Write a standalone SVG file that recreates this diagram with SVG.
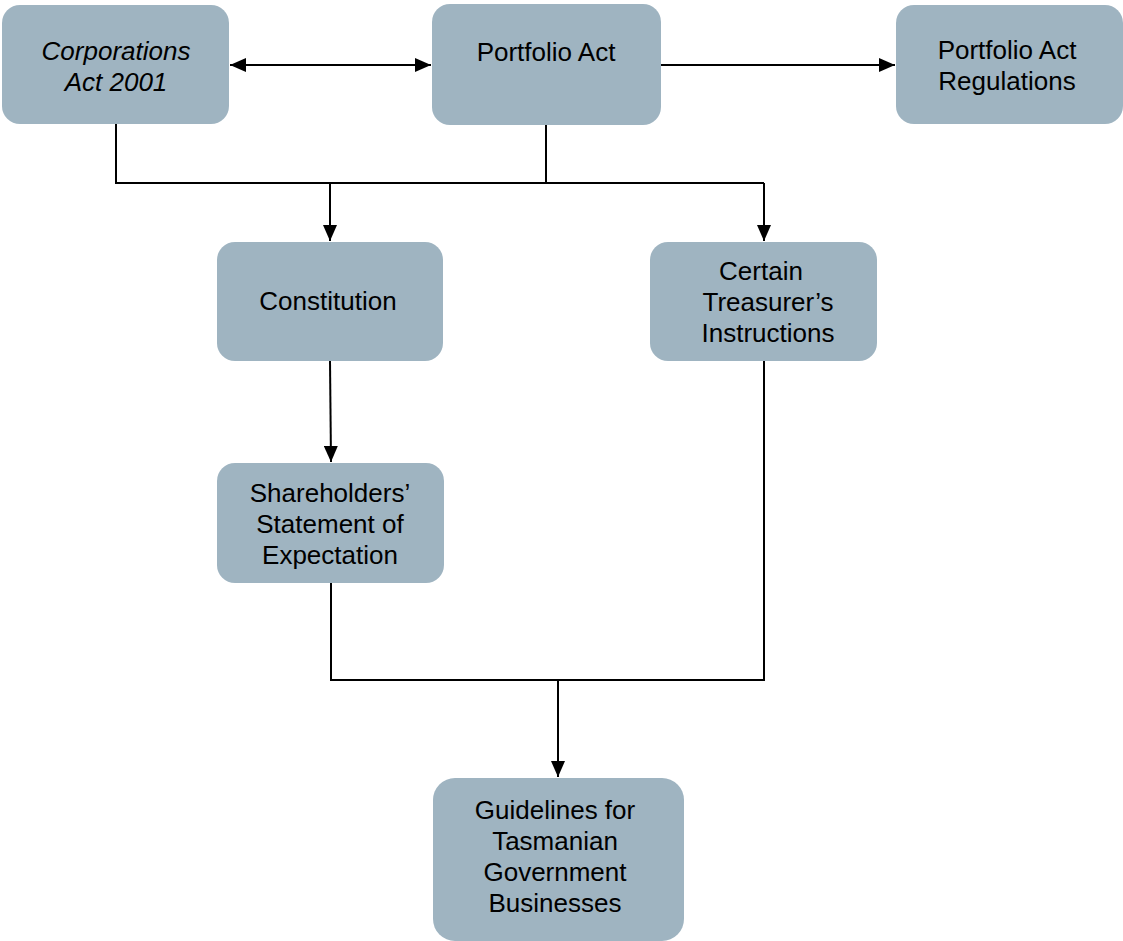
<svg xmlns="http://www.w3.org/2000/svg" width="1123" height="941" viewBox="0 0 1123 941">
<style>
.box{fill:#9FB4C1;}
.t{font-family:"Liberation Sans",Arial,sans-serif;font-size:26px;fill:#000;text-anchor:middle;}
.i{font-style:italic;}
.ln{stroke:#000;stroke-width:2;fill:none;}
</style>
<defs>
<marker id="ah" viewBox="0 0 16 14" refX="16" refY="7" markerWidth="16" markerHeight="14" markerUnits="userSpaceOnUse" orient="auto-start-reverse">
<path d="M0,0 L16,7 L0,14 Z" fill="#000"/>
</marker>
</defs>
<rect width="1123" height="941" fill="#fff"/>
<g id="connectors">
<line class="ln" x1="230" y1="65" x2="431" y2="65" marker-start="url(#ah)" marker-end="url(#ah)"/>
<line class="ln" x1="661" y1="65" x2="895" y2="65" marker-end="url(#ah)"/>
<polyline class="ln" points="116,124 116,183 764,183"/>
<line class="ln" x1="546" y1="125" x2="546" y2="183"/>
<line class="ln" x1="330" y1="183" x2="330" y2="241" marker-end="url(#ah)"/>
<line class="ln" x1="764" y1="183" x2="764" y2="241" marker-end="url(#ah)"/>
<line class="ln" x1="330" y1="361" x2="331" y2="462" marker-end="url(#ah)"/>
<polyline class="ln" points="331,583 331,680 764,680 764,361"/>
<line class="ln" x1="558" y1="680" x2="558" y2="777" marker-end="url(#ah)"/>
</g>
<g id="corporations">
<rect class="box" x="2" y="5" width="227" height="119" rx="18"/>
<text class="t i" x="116" y="60">Corporations</text>
<text class="t i" x="116" y="91">Act 2001</text>
</g>
<g id="portfolio">
<rect class="box" x="432" y="4" width="229" height="121" rx="18"/>
<text class="t" x="546" y="61">Portfolio Act</text>
</g>
<g id="regulations">
<rect class="box" x="896" y="5" width="227" height="119" rx="18"/>
<text class="t" x="1007" y="59">Portfolio Act</text>
<text class="t" x="1007" y="90">Regulations</text>
</g>
<g id="constitution">
<rect class="box" x="217" y="242" width="226" height="119" rx="18"/>
<text class="t" x="328" y="310">Constitution</text>
</g>
<g id="treasurer">
<rect class="box" x="650" y="242" width="227" height="119" rx="18"/>
<text class="t" x="761" y="280">Certain</text>
<text class="t" x="768" y="311">Treasurer’s</text>
<text class="t" x="768" y="342">Instructions</text>
</g>
<g id="shareholders">
<rect class="box" x="217" y="463" width="227" height="120" rx="18"/>
<text class="t" x="330" y="502">Shareholders’</text>
<text class="t" x="330" y="533">Statement of</text>
<text class="t" x="330" y="564">Expectation</text>
</g>
<g id="guidelines">
<rect class="box" x="433" y="778" width="251" height="163" rx="22"/>
<text class="t" x="555" y="819">Guidelines for</text>
<text class="t" x="555" y="850">Tasmanian</text>
<text class="t" x="555" y="881">Government</text>
<text class="t" x="555" y="912">Businesses</text>
</g>
</svg>
